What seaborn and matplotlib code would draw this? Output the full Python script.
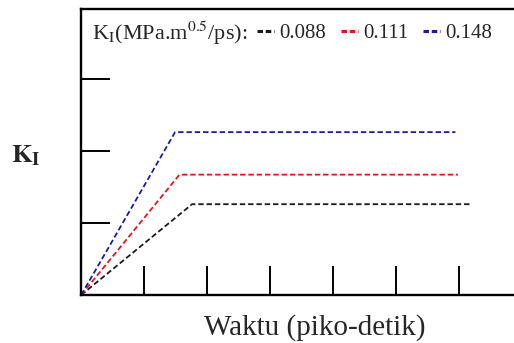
import numpy as np
import pandas as pd
import seaborn as sns
import matplotlib.pyplot as plt
from matplotlib.lines import Line2D

# K_I loading rates (MPa.m^0.5/ps) and the read-off ramp/plateau points
rates = ["0.088", "0.111", "0.148"]
t_black = [0.0, 1.76, 6.19]
k_black = [0.0, 1.26, 1.26]
t_red = [0.0, 1.56, 5.98]
k_red = [0.0, 1.67, 1.67]
t_blue = [0.0, 1.49, 5.94]
k_blue = [0.0, 2.26, 2.26]
colors = ["#1a1a1a", "#e8141c", "#1a1aa6"]

df = pd.DataFrame({
    "t": t_black + t_red + t_blue,
    "K": k_black + k_red + k_blue,
    "rate": [rates[0]] * 3 + [rates[1]] * 3 + [rates[2]] * 3,
})

sns.set_style("white")
plt.rcParams['font.family'] = ['Liberation Serif', 'DejaVu Serif']
plt.rcParams['mathtext.fontset'] = 'stix'

fig = plt.figure(figsize=(5.14, 3.43), dpi=100)
ax = fig.add_axes([0.158, 0.14, 0.842, 0.834])

sns.lineplot(data=df, x="t", y="K", hue="rate", palette=colors,
             style="rate", dashes=[(3, 1.6)] * 3, linewidth=1.3,
             legend=False, ax=ax, sort=False)

ax.set_xlim(0, 6.87)
ax.set_ylim(0, 3.97)
ax.set_xticks([1, 2, 3, 4, 5, 6])
ax.set_yticks([1, 2, 3])
ax.set_xticklabels([])
ax.set_yticklabels([])
ax.tick_params(direction="in", length=21, width=1.4, colors="black",
               bottom=True, left=True)
for s in ["left", "bottom", "top"]:
    ax.spines[s].set_color("black")
    ax.spines[s].set_linewidth(1.7)
ax.spines["right"].set_visible(False)

ax.set_xlabel("")
ax.set_ylabel("")
fig.text(0.612, 0.023, "Waktu (piko-detik)", ha="center", va="baseline", fontsize=21)
fig.text(0.05, 0.545, r"$\mathbf{K_I}$", ha="center", va="center", fontsize=19)

# legend row
ax.text(0.025, 0.915, r"K$_\mathrm{I}$(MPa.m$^{0.5}$/ps):", transform=ax.transAxes,
        fontsize=16, va="center", ha="left")
handles = [Line2D([], [], color=c, linestyle=(0, (1.8, 0.9)), linewidth=2.2) for c in colors]
ax.legend(handles, rates, ncol=3, frameon=False, loc="center left",
          bbox_to_anchor=(0.406, 0.915), handlelength=0.82, handletextpad=0.24,
          columnspacing=0.72, fontsize=15, borderaxespad=0, borderpad=0)

fig.savefig("out.png", dpi=100)
